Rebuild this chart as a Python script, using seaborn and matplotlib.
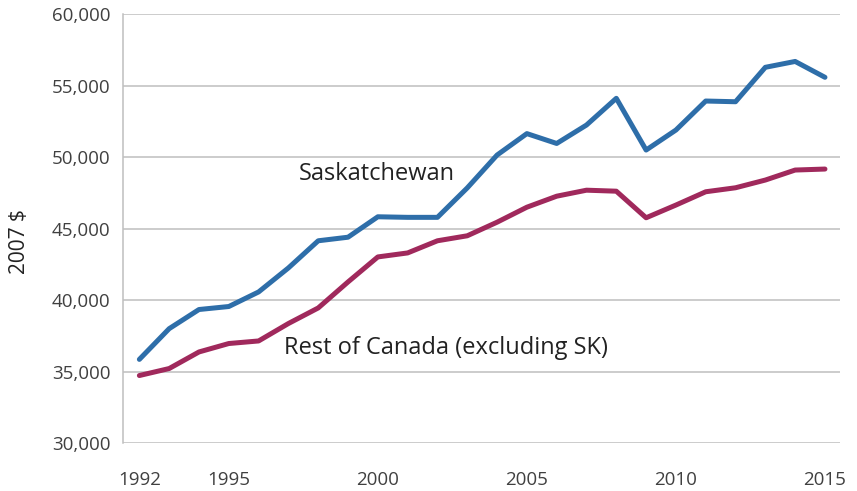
import numpy as np
import pandas as pd
import matplotlib
matplotlib.use("Agg")
import matplotlib.pyplot as plt
import seaborn as sns

years = list(range(1992, 2016))
saskatchewan = [35850, 38000, 39340, 39550, 40570, 42250, 44150, 44400,
                45830, 45790, 45790, 47850, 50150, 51650, 50960, 52250,
                54120, 50500, 51900, 53930, 53880, 56290, 56700, 55590]
rest_of_canada = [34720, 35210, 36370, 36960, 37140, 38360, 39450, 41270,
                  43020, 43300, 44150, 44500, 45450, 46500, 47270, 47690,
                  47620, 45760, 46650, 47580, 47860, 48400, 49100, 49170]
series_names = ["Saskatchewan", "Rest of Canada (excluding SK)"]
x_ticks = [1992, 1995, 2000, 2005, 2010, 2015]
y_ticks = [30000, 35000, 40000, 45000, 50000, 55000, 60000]

df = pd.DataFrame({
    "year": years * 2,
    "value": saskatchewan + rest_of_canada,
    "series": [series_names[0]] * len(years) + [series_names[1]] * len(years),
})

sns.set_style("white")
plt.rcParams["font.family"] = ["Open Sans", "DejaVu Sans"]

fig = plt.figure(figsize=(8.57, 4.91), dpi=100)
ax = fig.add_axes([0.1435, 0.0978, 0.980 - 0.1435, 0.9709 - 0.0978])

palette = {series_names[0]: "#2E6EA9", series_names[1]: "#A0295C"}
sns.lineplot(data=df, x="year", y="value", hue="series", palette=palette,
             linewidth=3.6, legend=False, ax=ax)

ax.set_xlim(1991.45, 2015.5)
ax.set_ylim(30000, 60000)
ax.set_xticks(x_ticks)
ax.set_xticklabels([str(t) for t in x_ticks])
ax.set_yticks(y_ticks)
ax.set_yticklabels([f"{t:,}" for t in y_ticks])
ax.yaxis.grid(True, color="#BFBFBF", linewidth=1.1)
ax.set_axisbelow(True)
ax.tick_params(axis="both", length=0, labelsize=13.5, labelcolor="#404040")
ax.tick_params(axis="x", pad=20)
ax.tick_params(axis="y", pad=9)
for side in ["top", "right", "bottom"]:
    ax.spines[side].set_visible(False)
ax.spines["left"].set_color("#BFBFBF")
ax.spines["left"].set_linewidth(1.1)

ax.set_xlabel("")
ax.set_ylabel("2007 $", fontsize=15, color="#222222")
ax.yaxis.set_label_coords(-0.13, 0.47)

ax.text(1997.35, 48820, series_names[0], fontsize=17, color="#222222",
        ha="left", va="center")
ax.text(1996.85, 36620, series_names[1], fontsize=17, color="#222222",
        ha="left", va="center")

fig.savefig("out.png", dpi=100)
